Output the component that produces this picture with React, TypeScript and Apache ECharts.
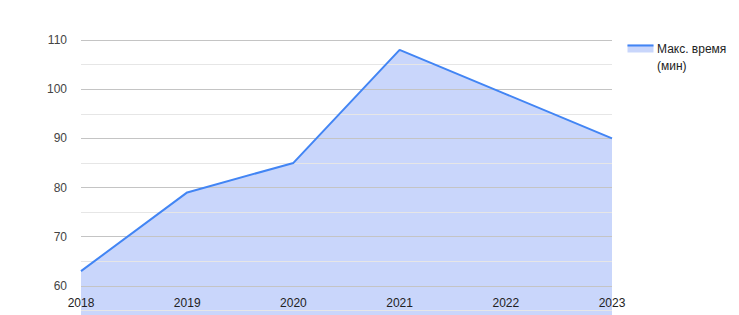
import React, { useEffect, useRef } from "react";
import * as echarts from "echarts";

const years = ["2018", "2019", "2020", "2021", "2022", "2023"];
const maxTime = [63, 79, 85, 108, 99, 90];
const seriesName = "Макс. время (мин)";

export default function App() {
  const ref = useRef<HTMLDivElement>(null);
  useEffect(() => {
    if (!ref.current) return;
    const chart = echarts.init(ref.current, undefined, { renderer: "svg" });
    chart.setOption({
      animation: false,
      textStyle: { fontFamily: "Arial, 'Liberation Sans', sans-serif" },
      grid: { left: 81, right: 127, top: 40, height: 295, containLabel: false, outerBoundsMode: "none" },
      xAxis: {
        type: "category",
        data: years,
        boundaryGap: false,
        offset: -40,
        z: 10,
        axisLine: { show: false },
        axisTick: { show: false },
        splitLine: { show: false },
        axisLabel: {
          margin: 2,
          color: "#222",
          fontSize: 12,
          verticalAlign: "top",
          interval: 0,
          fontFamily: "Arial, 'Liberation Sans', sans-serif",
        },
      },
      yAxis: {
        type: "value",
        min: 50,
        max: 110,
        interval: 10,
        z: 3,
        axisLine: { show: false },
        axisTick: { show: false },
        axisLabel: {
          margin: 14,
          color: "#444",
          fontSize: 12,
          showMinLabel: false,
          fontFamily: "Arial, 'Liberation Sans', sans-serif",
        },
        splitLine: { show: true, lineStyle: { color: "#c4c4c4", width: 1 } },
        minorTick: { show: false, splitNumber: 2 },
        minorSplitLine: { show: true, lineStyle: { color: "#e6e6e6", width: 1 } },
      },
      series: [
        {
          name: seriesName,
          type: "line",
          data: maxTime,
          symbol: "none",
          z: 1,
          lineStyle: { width: 0 },
          itemStyle: { color: "#4285f4" },
          areaStyle: { color: "#c9d6fb", opacity: 1 },
        },
        {
          name: seriesName,
          type: "line",
          data: maxTime,
          symbol: "none",
          z: 5,
          lineStyle: { color: "#4285f4", width: 2 },
          itemStyle: { color: "#4285f4" },
        },
      ],
      graphic: [
        {
          type: "group",
          left: 625,
          top: 43,
          children: [
            { type: "rect", shape: { x: 0, y: 1, width: 26, height: 8 }, style: { fill: "#c9d6fb" } },
            { type: "line", shape: { x1: 0, y1: 2, x2: 26, y2: 2 }, style: { stroke: "#4285f4", lineWidth: 2 } },
          ],
        },
        {
          type: "text",
          left: 657,
          top: 40,
          style: {
            text: "Макс. время\n(мин)",
            fill: "#222",
            fontSize: 12,
            lineHeight: 17,
            fontFamily: "Arial, 'Liberation Sans', sans-serif",
          },
        },
      ],
    });
    return () => chart.dispose();
  }, []);
  return (
    <div
      ref={ref}
      style={{ position: "fixed", left: 0, top: 0, width: 739, height: 315, background: "#fff" }}
    />
  );
}
